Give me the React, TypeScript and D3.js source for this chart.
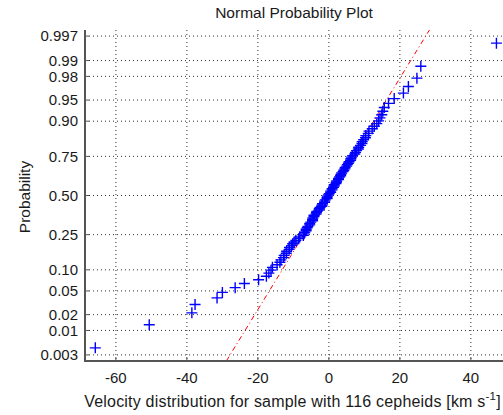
import React from "react";
import * as d3 from "d3";

// Sorted sample velocities (km/s), 116 cepheids
const velocities: number[] = [
  -65.8, -50.6, -38.6, -37.7, -31.5, -30.0, -26.4, -23.8, -19.8, -17.6, -16.9, -16.3,
  -15.9, -14.6, -13.8, -13.5, -12.8, -12.6, -12.0, -11.9, -11.2, -11.1, -10.5, -10.2, -9.8,
  -9.3, -8.5, -8.2, -7.2, -7.0, -6.8, -6.4, -6.4, -6.1, -5.9, -5.4, -5.4, -5.1, -4.6, -4.6,
  -4.5, -4.2, -4.2, -3.6, -3.5, -3.4, -2.7, -2.7, -2.5, -2.0, -1.9, -1.8, -1.2, -1.2, -1.0, -0.5, -0.5, -0.4, -0.1,
  0.1, 0.5, 0.5, 0.9, 0.9, 1.3, 1.5, 1.5, 2.0, 2.1, 2.2, 2.7, 2.7, 3.0, 3.3, 3.4, 3.6, 4.0, 4.2, 4.5, 4.6, 5.0, 5.2, 5.5, 5.7, 6.1, 6.2, 6.4,
  6.7, 7.3, 7.5, 7.8, 8.3, 8.4, 8.9, 9.3, 9.4, 9.8, 10.3, 10.4, 11.1, 11.3, 12.2, 12.8, 13.5,
  14.0, 14.4, 14.9, 15.2, 15.6, 16.8, 18.4, 21.0, 22.4, 24.8, 25.9, 47.2,
];

const probTicks: number[] = [0.003, 0.01, 0.02, 0.05, 0.1, 0.25, 0.5, 0.75, 0.9, 0.95, 0.98, 0.99, 0.997];
const probTickLabels: string[] = ["0.003", "0.01", "0.02", "0.05", "0.10", "0.25", "0.50", "0.75", "0.90", "0.95", "0.98", "0.99", "0.997"];
const xTicks: number[] = [-60, -40, -20, 0, 20, 40];

const xDomain: [number, number] = [-68.7, 49.5];
const zDomain: [number, number] = [-2.853, 2.853];

// inverse standard normal CDF (Acklam)
function normInv(p: number): number {
  const a = [-3.969683028665376e1, 2.209460984245205e2, -2.759285104469687e2, 1.38357751867269e2, -3.066479806614716e1, 2.506628277459239];
  const b = [-5.447609879822406e1, 1.615858368580409e2, -1.556989798598866e2, 6.680131188771972e1, -1.328068155288572e1];
  const c = [-7.784894002430293e-3, -3.223964580411365e-1, -2.400758277161838, -2.549732539343734, 4.374664141464968, 2.938163982698783];
  const d = [7.784695709041462e-3, 3.224671290700398e-1, 2.445134137142996, 3.754408661907416];
  const pl = 0.02425;
  if (p < pl) {
    const q = Math.sqrt(-2 * Math.log(p));
    return (((((c[0] * q + c[1]) * q + c[2]) * q + c[3]) * q + c[4]) * q + c[5]) / ((((d[0] * q + d[1]) * q + d[2]) * q + d[3]) * q + 1);
  }
  if (p > 1 - pl) {
    const q = Math.sqrt(-2 * Math.log(1 - p));
    return -(((((c[0] * q + c[1]) * q + c[2]) * q + c[3]) * q + c[4]) * q + c[5]) / ((((d[0] * q + d[1]) * q + d[2]) * q + d[3]) * q + 1);
  }
  const q = p - 0.5;
  const r = q * q;
  return ((((((a[0] * r + a[1]) * r + a[2]) * r + a[3]) * r + a[4]) * r + a[5]) * q) / (((((b[0] * r + b[1]) * r + b[2]) * r + b[3]) * r + b[4]) * r + 1);
}

export default function App() {
  const W = 503, H = 415;
  const L = 85, T = 30, B = 361;
  const x = d3.scaleLinear().domain(xDomain).range([L, 504.6]);
  const y = d3.scaleLinear().domain(zDomain).range([B, T]);
  const n = velocities.length;
  const sorted = [...velocities].sort((a, b) => a - b);
  const pts = sorted.map((v, i) => ({ v, z: normInv((i + 0.5) / n) }));

  const q1 = d3.quantile(sorted, 0.25) as number;
  const q3 = d3.quantile(sorted, 0.75) as number;
  const z1 = normInv(0.25), z3 = normInv(0.75);
  const slope = (q3 - q1) / (z3 - z1);
  const lineX = (z: number) => q1 + (z - z1) * slope;
  const refLine = d3.line<number>().x((z) => x(lineX(z))).y((z) => y(z));

  const font = "'Liberation Sans', Arial, sans-serif";
  const tc = "#1a1a1a";
  const axisColor = "#555";
  const gridColor = "#333";
  const ms = 5.5;

  return (
    <div style={{ position: "absolute", left: 0, top: 0 }}>
      <svg width={W} height={H} style={{ display: "block", background: "#fff" }} fontFamily={font}>
        <defs>
          <clipPath id="plotClip">
            <rect x={L} y={T} width={W - L} height={B - T} />
          </clipPath>
        </defs>
        {/* grid */}
        {xTicks.map((t) => (
          <line key={"gx" + t} x1={x(t)} x2={x(t)} y1={T} y2={B} stroke={gridColor} strokeWidth={1} strokeDasharray="1,3" />
        ))}
        {probTicks.map((p) => (
          <line key={"gy" + p} x1={L} x2={W} y1={y(normInv(p))} y2={y(normInv(p))} stroke={gridColor} strokeWidth={1} strokeDasharray="1,3" />
        ))}
        <g clipPath="url(#plotClip)">
          <path d={refLine([zDomain[0], zDomain[1]]) || ""} fill="none" stroke="#ff0000" strokeWidth={1} strokeDasharray="5,3,1,3" />
          {pts.map((p, i) => {
            const cx = x(p.v), cy = y(p.z);
            return (
              <path key={i} d={`M${cx - ms},${cy}H${cx + ms}M${cx},${cy - ms}V${cy + ms}`} stroke="#0000ff" strokeWidth={1.4} fill="none" />
            );
          })}
        </g>
        {/* axes */}
        <line x1={L} x2={L} y1={T} y2={B + 1} stroke={axisColor} strokeWidth={2} />
        <line x1={L - 1} x2={W} y1={B} y2={B} stroke={axisColor} strokeWidth={2} />
        {probTicks.map((p, i) => (
          <g key={"ty" + p}>
            <line x1={L} x2={L + 4} y1={y(normInv(p))} y2={y(normInv(p))} stroke={axisColor} strokeWidth={1} />
            <text x={78} y={y(normInv(p))} dy="0.35em" textAnchor="end" fontSize={15} fill={tc}>
              {probTickLabels[i]}
            </text>
          </g>
        ))}
        {xTicks.map((t) => (
          <g key={"tx" + t}>
            <line x1={x(t)} x2={x(t)} y1={B} y2={B - 4} stroke={axisColor} strokeWidth={1} />
            <text x={x(t)} y={382.5} textAnchor="middle" fontSize={15} fill={tc}>
              {t}
            </text>
          </g>
        ))}
        <text x={294} y={17.5} textAnchor="middle" fontSize={15.5} fill={tc}>
          Normal Probability Plot
        </text>
        <text x={292.5} y={406.5} textAnchor="middle" fontSize={16} letterSpacing={0.2} fill={tc}>
          Velocity distribution for sample with 116 cepheids [km s
          <tspan fontSize={11.5} dy={-6.5}>-1</tspan>
          <tspan dy={6.5}>]</tspan>
        </text>
        <text transform="translate(29.5,197) rotate(-90)" textAnchor="middle" fontSize={15.5} fill={tc}>
          Probability
        </text>
      </svg>
    </div>
  );
}
